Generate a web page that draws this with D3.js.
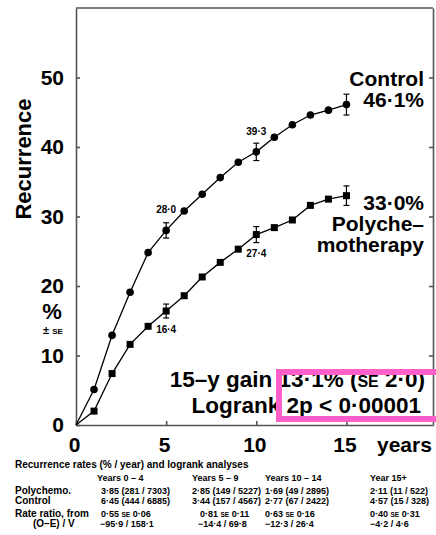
<body style="margin:0;background:#fff">
<script src="https://d3js.org/d3.v7.min.js"></script>
<style>
  text { font-family: "Liberation Sans", Arial, sans-serif; font-weight: bold; fill: #000; }
</style>
<script>
// curve values, years 1..15
var years = [1,2,3,4,5,6,7,8,9,10,11,12,13,14,15];
var control = [5.1,12.9,19.1,24.8,28.0,30.8,33.2,35.6,37.8,39.3,41.4,43.2,44.6,45.3,46.1];
var polychemo = [2.0,7.4,11.6,14.2,16.4,18.6,21.3,23.4,25.3,27.4,28.4,29.5,31.6,32.5,33.0];
var seYears = [5,10,15];
var controlSE = [1.1,1.25,1.5];
var polySE = [1.0,1.15,1.4];
var controlNotes = [[5,"28·0"],[10,"39·3"]];
var polyNotes = [[5,"16·4"],[10,"27·4"]];
var xTicks = [0,5,10,15];
var yTicks = [0,10,20,30,40,50];

// table
var colHeads = ["Years 0 – 4","Years 5 – 9","Years 10 – 14","Year 15+"];
var polyRates = ["3·85 (281 / 7303)","2·85 (149 / 5227)","1·69 (49 / 2895)","2·11 (11 / 522)"];
var ctrlRates = ["6·45 (444 / 6885)","3·44 (157 / 4567)","2·77 (67 / 2422)","4·57 (15 / 328)"];
var ratios = [["0·55","0·06"],["0·81","0·11"],["0·63","0·16"],["0·40","0·31"]];
var oeV = ["−95·9 / 158·1","−14·4 / 69·8","−12·3 / 26·4","−4·2 / 4·6"];

var W = 436, H = 535;
var svg = d3.select("body").append("svg").attr("width", W).attr("height", H);

var x = d3.scaleLinear().domain([0, 19.8]).range([76, 433]);
var y = d3.scaleLinear().domain([0, 60]).range([425, 8]);
var frame = "#555";

// frame + axes
var gx = svg.append("g").attr("transform", "translate(0,425)")
    .call(d3.axisBottom(x).tickValues(xTicks).tickSizeInner(-4).tickSizeOuter(0).tickPadding(12));
gx.selectAll("text").attr("font-size", 21).attr("dx", -2);
var gy = svg.append("g").attr("transform", "translate(76,0)")
    .call(d3.axisLeft(y).tickValues(yTicks).tickSizeInner(-4).tickSizeOuter(0).tickPadding(12));
gy.selectAll("text").attr("font-size", 21);
var gr = svg.append("g").attr("transform", "translate(433,0)")
    .call(d3.axisRight(y).tickValues(yTicks.slice(1)).tickSizeInner(-4).tickSizeOuter(0).tickFormat(""));
svg.append("line").attr("x1", 76).attr("x2", 433).attr("y1", 8).attr("y2", 8);
svg.selectAll(".domain, .tick line, svg > line").attr("stroke", frame).attr("stroke-width", 1.6);

svg.append("text").attr("x", 377).attr("y", 452).attr("font-size", 21).text("years");

svg.append("text").attr("transform", "translate(31,159) rotate(-90)")
    .attr("text-anchor", "middle").attr("font-size", 22).text("Recurrence");
svg.append("text").attr("x", 52).attr("y", 319).attr("text-anchor", "middle").attr("font-size", 22).text("%");
var pm = svg.append("text").attr("x", 53).attr("y", 334).attr("text-anchor", "middle").attr("font-size", 11);
pm.append("tspan").text("± ");
pm.append("tspan").attr("font-size", 8).text("SE");

// curves
var line = d3.line().x(d => x(d[0])).y(d => y(d[1]));
function series(vals, se, shape) {
  var pts = years.map((yr, i) => [yr, vals[i]]);
  svg.append("path").datum([[0,0]].concat(pts)).attr("d", line)
      .attr("fill", "none").attr("stroke", "#000").attr("stroke-width", 1.3);
  seYears.forEach((yr, i) => {
    var v = vals[years.indexOf(yr)], g = svg.append("g").attr("stroke", "#000").attr("stroke-width", 1.2);
    g.append("line").attr("x1", x(yr)).attr("x2", x(yr)).attr("y1", y(v - se[i])).attr("y2", y(v + se[i]));
    [v - se[i], v + se[i]].forEach(e => g.append("line")
        .attr("x1", x(yr) - 3).attr("x2", x(yr) + 3).attr("y1", y(e)).attr("y2", y(e)));
  });
  if (shape === "circle") {
    svg.selectAll(null).data(pts).enter().append("circle")
        .attr("cx", d => x(d[0])).attr("cy", d => y(d[1])).attr("r", 3.8).attr("fill", "#000");
  } else {
    svg.selectAll(null).data(pts).enter().append("rect")
        .attr("x", d => x(d[0]) - 3.5).attr("y", d => y(d[1]) - 3.5)
        .attr("width", 7).attr("height", 7).attr("fill", "#000");
  }
}
series(control, controlSE, "circle");
series(polychemo, polySE, "square");

controlNotes.forEach(n => svg.append("text").attr("x", x(n[0])).attr("y", y(control[years.indexOf(n[0])]) - 17)
    .attr("text-anchor", "middle").attr("font-size", 10).text(n[1]));
polyNotes.forEach(n => svg.append("text").attr("x", x(n[0])).attr("y", y(polychemo[years.indexOf(n[0])]) + 22)
    .attr("text-anchor", "middle").attr("font-size", 10).text(n[1]));

// end labels
function rlabel(txt, yy) {
  return svg.append("text").attr("x", 424).attr("y", yy).attr("text-anchor", "end").attr("font-size", 21).text(txt);
}
rlabel("Control", 86);
rlabel("46·1%", 107);
rlabel("33·0%", 210);
rlabel("Polyche–", 231);
rlabel("motherapy", 252);

var g1 = svg.append("text").attr("x", 425).attr("y", 387).attr("text-anchor", "end").attr("font-size", 22.5);
g1.append("tspan").text("15–y gain 13·1% (");
g1.append("tspan").attr("font-size", 16).text("SE");
g1.append("tspan").text(" 2·0)");
rlabel("Logrank 2p < 0·00001", 413).attr("x", 421).attr("font-size", 22.5);

// pink annotation box
svg.append("rect").attr("x", 279).attr("y", 372).attr("width", 200).attr("height", 47)
    .attr("fill", "none").attr("stroke", "#ff5fc8").attr("stroke-width", 6);

// table
var cols = [101, 192, 265, 370];
var fs = 9;
svg.append("text").attr("x", 15).attr("y", 468).attr("font-size", 10)
    .text("Recurrence rates (% / year) and logrank analyses");
colHeads.forEach((t, i) => svg.append("text").attr("x", i === 0 ? 97 : cols[i]).attr("y", 481).attr("font-size", fs).text(t));
svg.append("text").attr("x", 15).attr("y", 494).attr("font-size", 10).text("Polychemo.");
svg.append("text").attr("x", 15).attr("y", 503.5).attr("font-size", 10).text("Control");
polyRates.forEach((t, i) => svg.append("text").attr("x", cols[i]).attr("y", 494).attr("font-size", fs).text(t));
ctrlRates.forEach((t, i) => svg.append("text").attr("x", cols[i]).attr("y", 503.5).attr("font-size", fs).text(t));
svg.append("text").attr("x", 15).attr("y", 517).attr("font-size", 10).text("Rate ratio, from");
svg.append("text").attr("x", 33).attr("y", 527).attr("font-size", 10).text("(O–E) / V");
ratios.forEach((r, i) => {
  var t = svg.append("text").attr("x", i === 1 ? 200 : cols[i]).attr("y", 517).attr("font-size", fs);
  t.append("tspan").text(r[0] + " ");
  t.append("tspan").attr("font-size", 6.5).text("SE");
  t.append("tspan").text(" " + r[1]);
});
oeV.forEach((t, i) => svg.append("text").attr("x", i === 0 ? 100 : i === 1 ? 198 : cols[i]).attr("y", 527).attr("font-size", fs).text(t));
</script>
</body>
